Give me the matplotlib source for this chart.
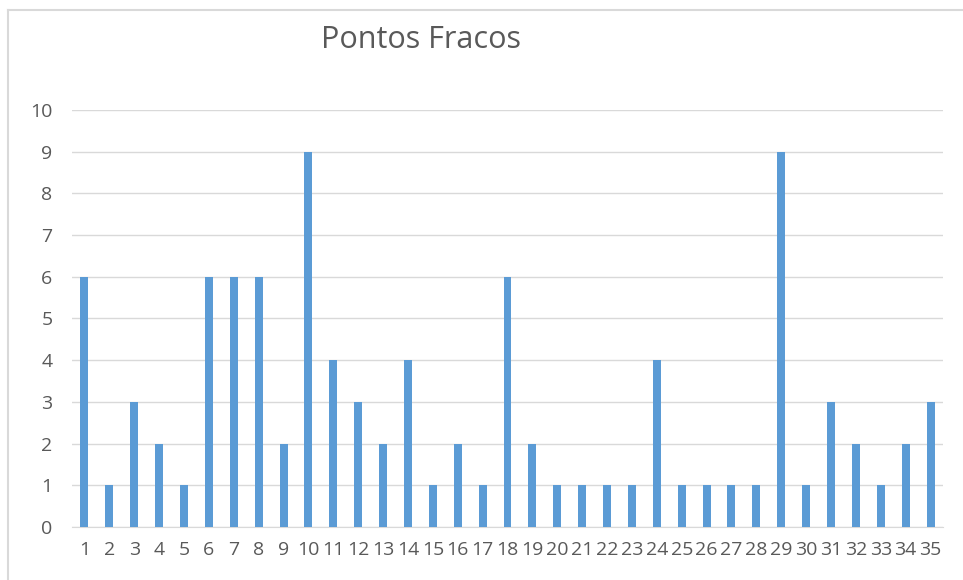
import matplotlib
matplotlib.use('Agg')
import matplotlib.pyplot as plt
from matplotlib.lines import Line2D

categories = [str(i) for i in range(1, 36)]
values = [6, 1, 3, 2, 1, 6, 6, 6, 2, 9,
          4, 3, 2, 4, 1, 2, 1, 6, 2, 1,
          1, 1, 1, 4, 1, 1, 1, 1, 9, 1,
          3, 2, 1, 2, 3]
yticks = list(range(0, 11))

plt.rcParams['font.family'] = ['Open Sans', 'DejaVu Sans']
txt = '#595959'

W, H = 963, 580
fig = plt.figure(figsize=(W / 100, H / 100), dpi=100)
ax = fig.add_axes([72 / W, 1 - 527 / H, (943 - 72) / W, (527 - 110) / H])

pos = list(range(1, len(values) + 1))
ax.bar(pos, values, width=0.32, color='#5B9BD5', zorder=3)
ax.set_xlim(0.5, 35.5)
ax.set_ylim(0, 10)
ax.set_yticks(yticks)
ax.set_xticks(pos)
ax.set_xticklabels(categories)
ax.grid(axis='y', color='#D9D9D9', linewidth=1, zorder=0)
for s in ['top', 'right', 'left']:
    ax.spines[s].set_visible(False)
ax.spines['bottom'].set_color('#D9D9D9')
ax.tick_params(axis='both', length=0, labelsize=14, colors=txt)
ax.tick_params(axis='x', pad=10)
ax.tick_params(axis='y', pad=14)

fig.text(421 / W, 1 - 40 / H, 'Pontos Fracos', ha='center', va='center',
         fontsize=22, color=txt)

# chart frame
fig.add_artist(Line2D([8 / W, 8 / W], [0, 1 - 10 / H], color='#D9D9D9', lw=1.5))
fig.add_artist(Line2D([8 / W, 1], [1 - 10 / H, 1 - 10 / H], color='#D9D9D9', lw=1.5))

fig.savefig('out.png', dpi=100)
